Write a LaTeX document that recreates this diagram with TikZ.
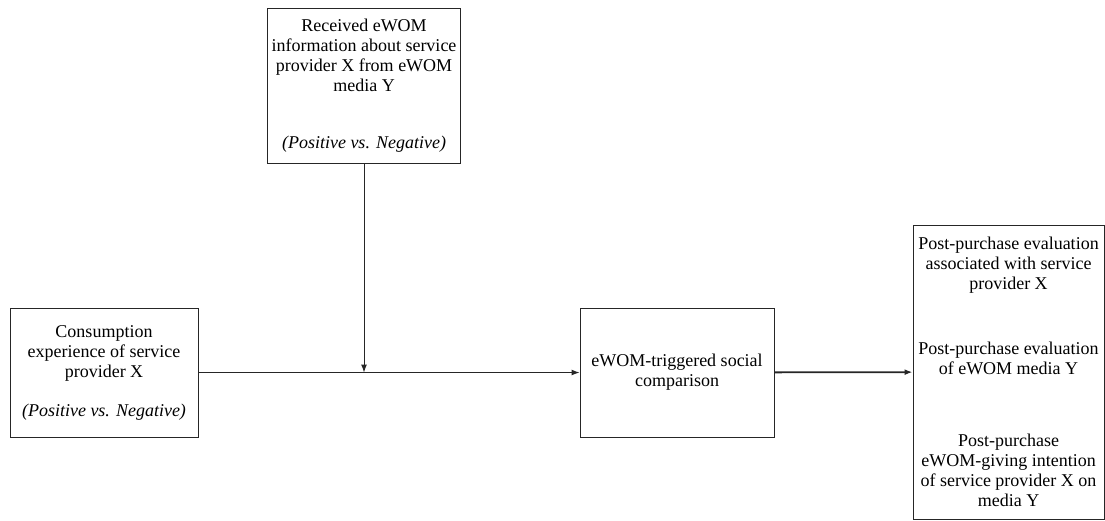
\documentclass[tikz,border=0pt]{standalone}
\usepackage{fontspec}
\setmainfont{Liberation Serif}
\usepackage{tikz}
\usetikzlibrary{arrows.meta}

\begin{document}
\begin{tikzpicture}[x=1pt, y=-1pt, draw=black!85, >={Latex[length=8pt,width=6pt]}]
	\tikzstyle{box}=[rectangle, draw=black!85, line width=1pt, align=center, inner sep=0pt, font=\fontsize{18pt}{20pt}\selectfont]
	\tikzstyle{link}=[->, line width=1pt]

	% Fix the canvas
	\useasboundingbox (0,0) rectangle (1105,520);

	% Draw the eWOM information box (top)
	\node[box, minimum width=193pt, minimum height=155pt] (info) at (364,85.5) {Received eWOM\\information about service\\provider X from eWOM\\media Y\\[37pt]\textit{(Positive vs. Negative)}};

	% Draw the consumption experience box
	\node[box, minimum width=188pt, minimum height=129pt] (exp) at (104,372.5) {Consumption\\experience of service\\provider X\\[19pt]\textit{(Positive vs. Negative)}};

	% Draw the social comparison box
	\node[box, minimum width=194pt, minimum height=129pt] (comp) at (677,372.5) {eWOM-triggered social\\comparison};

	% Draw the outcomes box
	\node[box, minimum width=191pt, minimum height=294pt] (eval) at (1008.5,372) {Post-purchase evaluation\\associated with service\\provider X\\[45pt]Post-purchase evaluation\\of eWOM media Y\\[52pt]Post-purchase\\eWOM-giving intention\\of service provider X on\\media Y};

	% Point where the moderator meets the main path
	\coordinate (join) at (info.south |- exp.east);

	% Draw arrows
	\path[link] (exp) edge (comp);
	\path[link] (info) edge (join);
	\path[->, line width=1.8pt] (comp) edge (eval);
\end{tikzpicture}
\end{document}
